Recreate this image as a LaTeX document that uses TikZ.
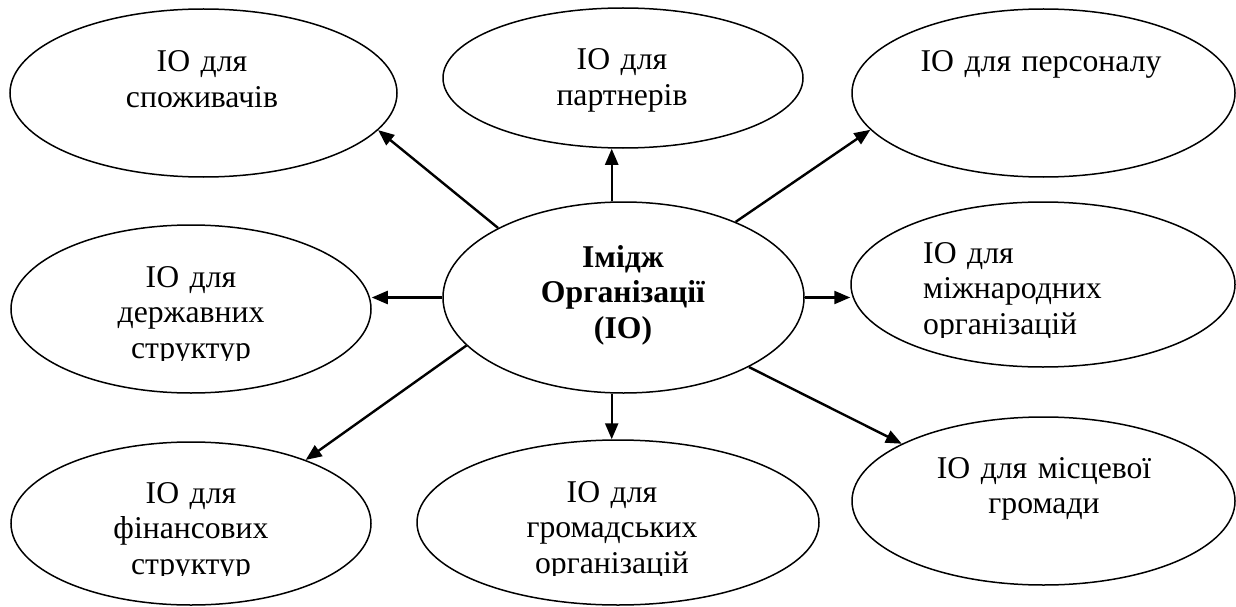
\documentclass[tikz,border=0pt]{standalone}
\usepackage{fontspec}
\setmainfont{Liberation Serif}
\usetikzlibrary{arrows.meta,shapes.geometric}
\begin{document}
\begin{tikzpicture}[x=1pt,y=-1pt,
  ell/.style={draw, ellipse, line width=1.5pt, inner sep=0pt},
  arr/.style={line width=2.4pt, -{Triangle[length=16pt,width=13pt]}},
  lbl/.style={inner sep=0pt, text width=340pt, align=center, anchor=base, font=\fontsize{31.7}{35.5}\selectfont},
  lblb/.style={lbl, font=\bfseries\fontsize{31.7}{35.5}\selectfont},
]
\useasboundingbox (0,0) rectangle (1236,607);
% ellipses
\node[ell, minimum width=387pt, minimum height=168pt] (a) at (203.5,93) {};
\node[ell, minimum width=360pt, minimum height=140pt] (b) at (623,78) {};
\node[ell, minimum width=383pt, minimum height=168pt] (d) at (1043.5,93) {};
\node[ell, minimum width=360pt, minimum height=168pt] (e) at (191,309) {};
\node[ell, minimum width=361pt, minimum height=191pt] (C) at (623.5,297.5) {};
\node[ell, minimum width=384pt, minimum height=165pt] (f) at (1043,284.5) {};
\node[ell, minimum width=360pt, minimum height=163pt] (g) at (191,523.5) {};
\node[ell, minimum width=402pt, minimum height=165pt] (h) at (618,522.5) {};
\node[ell, minimum width=383pt, minimum height=168pt] (i) at (1043.5,501) {};
% texts
\node[lbl] (ta) at (202,72) {ІО для\\споживачів};
\node[lbl] (tb) at (622,70) {ІО для\\партнерів};
\node[lbl] (td) at (1041,72) {ІО для персоналу};
\begin{scope}
\clip (0,0) rectangle (1236,360.5);
\node[lbl] (te) at (191,287) {ІО для\\державних\\структур};
\end{scope}
\node[lblb] (tC) at (623,267) {Імідж\\Організації\\(ІО)};
\begin{scope}
\clip (0,0) rectangle (1236,337.5);
\node[lbl, align=left, anchor=base west] (tf) at (923,263) {ІО для\\міжнародних\\організацій};
\end{scope}
\begin{scope}
\clip (0,0) rectangle (1236,575);
\node[lbl] (tg) at (191,503) {ІО для\\фінансових\\структур};
\node[lbl] (th) at (612,502) {ІО для\\громадських\\організацій};
\end{scope}
\node[lbl] (ti) at (1044,478) {ІО для місцевої\\громади};
% arrows
\draw[arr] (C.151) -- (a.-12);
\draw[arr] (C.97) -- (C.97 |- b.south);
\draw[arr] (C.34) -- (d.192);
\draw[arr] (C.west) -- (C.west -| e.east);
\draw[arr] (C.east) -- (C.east -| f.west);
\draw[arr] (C.197) -- (g.29);
\draw[arr] (C.263) -- (C.263 |- h.north);
\draw[arr] (C.-29) -- (i.158);
\end{tikzpicture}
\end{document}
